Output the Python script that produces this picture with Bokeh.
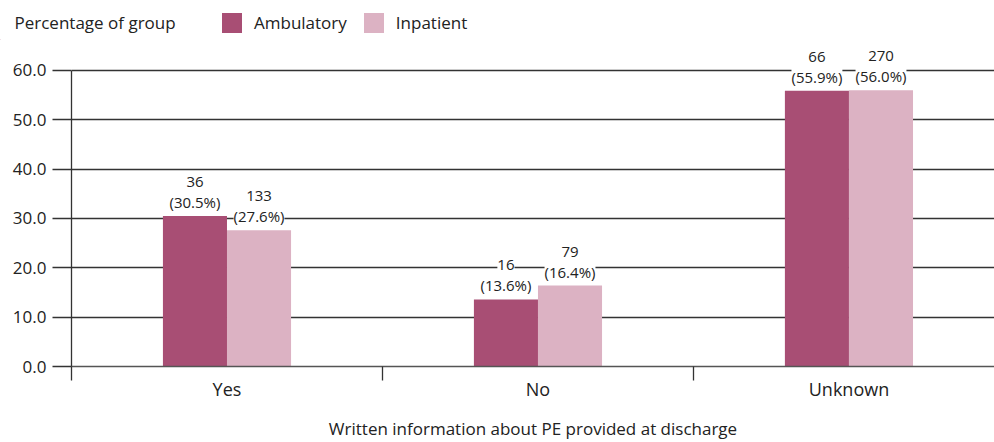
from bokeh.plotting import figure
from bokeh.models import (ColumnDataSource, LabelSet, Label, Legend, LegendItem,
                          FixedTicker, Range1d, NumeralTickFormatter)
from bokeh.core.properties import value
from bokeh.embed import file_html
from bokeh.resources import INLINE

categories = ["Yes", "No", "Unknown"]
series_names = ["Ambulatory", "Inpatient"]
ambulatory_pct = [30.5, 13.6, 55.9]
inpatient_pct = [27.6, 16.4, 56.0]
ambulatory_n = [36, 16, 66]
inpatient_n = [133, 79, 270]
y_ticks = [0, 10, 20, 30, 40, 50, 60]

AMB = "#a84e74"
INP = "#dcb2c3"
FONT = "Open Sans"
TXT = "#222222"

centers = [i + 0.5 for i in range(len(categories))]
bw = 0.206

amb_src = ColumnDataSource(dict(
    x=[c - bw / 2 for c in centers], top=ambulatory_pct,
    pct=["(%.1f%%)" % v for v in ambulatory_pct],
    n=[str(v) for v in ambulatory_n]))
inp_src = ColumnDataSource(dict(
    x=[c + bw / 2 for c in centers], top=inpatient_pct,
    pct=["(%.1f%%)" % v for v in inpatient_pct],
    n=[str(v) for v in inpatient_n]))

# ---------- header (heading + legend) ----------
h = figure(width=994, height=40, output_backend="svg", toolbar_location=None,
           x_range=Range1d(0, 994), y_range=Range1d(0, 40),
           x_axis_type=None, y_axis_type=None, min_border=0)
h.outline_line_color = None
h.grid.visible = False
# legend swatches only (placed outside the visible range)
d1 = h.vbar(x=[-5000], top=[1], width=1, fill_color=AMB, line_color=None)
d2 = h.vbar(x=[-5000], top=[1], width=1, fill_color=INP, line_color=None)
h.add_layout(Label(x=14, y=18, text="Percentage of group", text_font=FONT,
                   text_font_size="17px", text_color=TXT,
                   text_baseline="middle"))
legend = Legend(items=[LegendItem(label=series_names[0], renderers=[d1]),
                       LegendItem(label=series_names[1], renderers=[d2])],
                orientation="horizontal", location=(219, 5),
                glyph_width=25, glyph_height=25, padding=0, margin=0,
                spacing=14, label_standoff=10, border_line_color=None,
                background_fill_alpha=0, label_text_font=FONT,
                label_text_font_size="17px", label_text_color=TXT)
h.add_layout(legend, "center")

# ---------- main chart ----------
p = figure(width=994, height=402, output_backend="svg", toolbar_location=None,
           x_range=Range1d(0, 2.968), y_range=Range1d(0, 66.08),
           min_border_left=71, min_border_top=0, min_border_right=0,
           min_border_bottom=76)
p.outline_line_color = None
p.background_fill_color = "white"

p.vbar(x="x", top="top", width=bw, bottom=0, source=amb_src,
       fill_color=AMB, line_color=None)
p.vbar(x="x", top="top", width=bw, bottom=0, source=inp_src,
       fill_color=INP, line_color=None)

p.xgrid.visible = False
p.ygrid.grid_line_color = "#333333"
p.ygrid.grid_line_width = 1.3
p.ygrid.ticker = FixedTicker(ticks=y_ticks)

ya = p.yaxis[0]
ya.ticker = FixedTicker(ticks=y_ticks)
ya.bounds = (0, 60)
ya.formatter = NumeralTickFormatter(format="0.0")
ya.major_tick_out = 19
ya.major_tick_in = 0
ya.major_tick_line_color = "#333333"
ya.major_tick_line_width = 1.3
ya.minor_tick_line_color = None
ya.axis_line_color = "#333333"
ya.axis_line_width = 1.3
ya.major_label_standoff = 6
ya.major_label_text_font = FONT
ya.major_label_text_font_size = "17px"
ya.major_label_text_color = TXT

xa = p.xaxis[0]
xa.ticker = FixedTicker(ticks=centers, minor_ticks=[0, 1, 2, 3])
xa.major_label_overrides = {c: cat for c, cat in zip(centers, categories)}
xa.major_tick_line_color = None
xa.major_tick_out = 0
xa.major_tick_in = 0
xa.minor_tick_out = 14
xa.minor_tick_in = 0
xa.minor_tick_line_color = "#333333"
xa.minor_tick_line_width = 1.3
xa.axis_line_color = "#555555"
xa.axis_line_width = 1.5
xa.major_label_standoff = -4
xa.major_label_text_font = FONT
xa.major_label_text_font_size = "18px"
xa.major_label_text_color = TXT
xa.axis_label = "Written information about PE provided at discharge"
xa.axis_label_text_font = FONT
xa.axis_label_text_font_size = "17px"
xa.axis_label_text_font_style = "normal"
xa.axis_label_text_color = TXT
xa.axis_label_standoff = 13

for src in (amb_src, inp_src):
    p.add_layout(LabelSet(x="x", y="top", text="pct", source=src,
                          text_align="center", text_baseline="bottom",
                          y_offset=4, text_font=value(FONT),
                          text_font_size=value("15px"),
                          text_color=TXT,
                          background_fill_color="white"))
    p.add_layout(LabelSet(x="x", y="top", text="n", source=src,
                          text_align="center", text_baseline="bottom",
                          y_offset=29, text_font=value(FONT),
                          text_font_size=value("15px"),
                          text_color=TXT,
                          background_fill_color="white"))

open("out.html", "w").write(file_html([h, p], INLINE))
